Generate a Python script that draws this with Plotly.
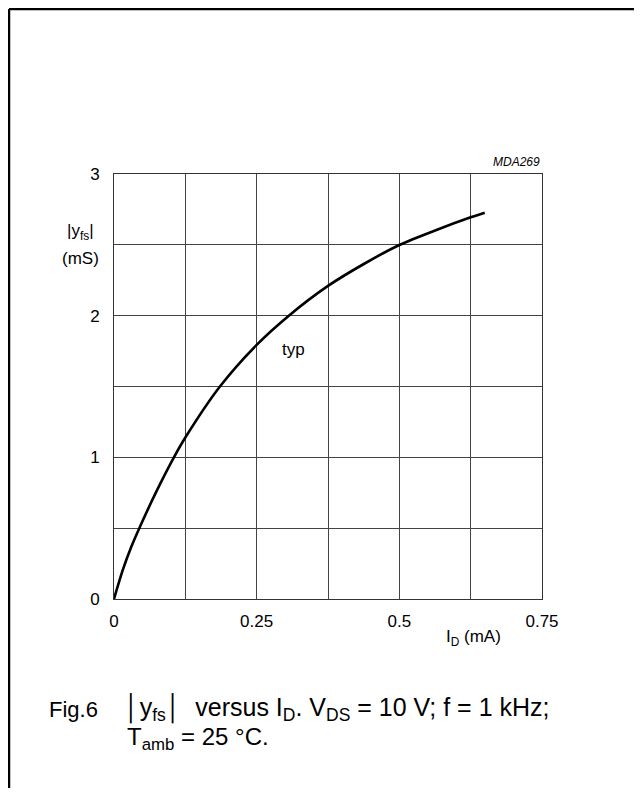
import plotly.graph_objects as go

# |yfs| (mS) versus ID (mA), typical curve
id_ma = [0.0, 0.015, 0.03, 0.0455, 0.075, 0.105, 0.125, 0.1856, 0.25, 0.3064, 0.375, 0.44, 0.5, 0.565, 0.625, 0.6496]
yfs_ms = [0.0, 0.2, 0.365, 0.51, 0.765, 1.0, 1.14, 1.5, 1.794, 2.0, 2.21, 2.37, 2.499, 2.605, 2.694, 2.727]

x_tickvals = [0, 0.125, 0.25, 0.375, 0.5, 0.625, 0.75]
x_ticktext = ["0", "", "0.25", "", "0.5", "", "0.75"]
y_tickvals = [0, 0.5, 1, 1.5, 2, 2.5, 3]
y_ticktext = ["0", "", "1", "", "2", "", "3"]

FONT = "Liberation Sans, Arial, sans-serif"
PAGE_OFFSET = 8  # default body margin of the html page
W, H = 642 - PAGE_OFFSET, 796 - 2 * PAGE_OFFSET
# plot area in page pixels, converted to figure pixels
L, R, T, B = 114 - PAGE_OFFSET, 542 - PAGE_OFFSET, 174 - PAGE_OFFSET, 599 - PAGE_OFFSET


def px(x):
    return (x - PAGE_OFFSET - L) / (R - L)


def py(y):
    return (B - (y - PAGE_OFFSET)) / (B - T)


fig = go.Figure()
fig.add_trace(
    go.Scatter(
        x=id_ma,
        y=yfs_ms,
        mode="lines",
        line=dict(color="black", width=2.6, shape="spline", smoothing=0.8),
        showlegend=False,
        hoverinfo="skip",
    )
)

fig.update_layout(
    width=W,
    height=H,
    margin=dict(l=L, r=W - R, t=T, b=H - B, autoexpand=False),
    paper_bgcolor="white",
    plot_bgcolor="white",
    font=dict(family=FONT, size=17, color="black"),
    showlegend=False,
)
axis_common = dict(
    showgrid=True,
    gridcolor="#444444",
    gridwidth=1,
    showline=True,
    linecolor="#333333",
    linewidth=1,
    mirror=True,
    zeroline=False,
    ticks="",
    tickfont=dict(family=FONT, size=17, color="black"),
    tickmode="array",
    fixedrange=True,
)
fig.update_xaxes(range=[0, 0.75], tickvals=x_tickvals, ticktext=x_ticktext,
                 ticklabelstandoff=7, **axis_common)
fig.update_yaxes(range=[0, 3], tickvals=y_tickvals, ticktext=y_ticktext,
                 ticklabelstandoff=10, **axis_common)

annotations = [
    dict(x=1, y=py(162), xref="paper", yref="paper", text="<i>MDA269</i>",
         xanchor="right", yanchor="middle", showarrow=False, font=dict(size=12)),
    dict(x=px(80), y=py(232), xref="paper", yref="paper", text="|y<sub>fs</sub>|",
         xanchor="center", yanchor="middle", showarrow=False, font=dict(size=17)),
    dict(x=px(80), y=py(258), xref="paper", yref="paper", text="(mS)",
         xanchor="center", yanchor="middle", showarrow=False, font=dict(size=17)),
    dict(x=px(473), y=py(638), xref="paper", yref="paper", text="I<sub>D</sub> (mA)",
         xanchor="center", yanchor="middle", showarrow=False, font=dict(size=17)),
    dict(x=0.3137, y=1.758, xref="x", yref="y", text="typ",
         xanchor="center", yanchor="middle", showarrow=False, font=dict(size=17)),
    dict(x=px(47), y=py(709), xref="paper", yref="paper", text="Fig.6",
         xanchor="left", yanchor="middle", showarrow=False, font=dict(size=22)),
    dict(x=px(122), y=py(709), xref="paper", yref="paper",
         text="\u2502y<sub>fs</sub>\u2502  versus I<sub>D</sub>. V<sub>DS</sub> = 10 V; f = 1 kHz;",
         xanchor="left", yanchor="middle", showarrow=False, font=dict(size=25)),
    dict(x=px(125), y=py(738), xref="paper", yref="paper",
         text="T<sub>amb</sub> = 25 \u00b0C.",
         xanchor="left", yanchor="middle", showarrow=False, font=dict(size=24)),
]
fig.update_layout(annotations=annotations)

# page frame: top and left border only
frame = dict(type="line", xref="paper", yref="paper", line=dict(color="black", width=2.5))
fig.add_shape(x0=px(9), x1=px(642), y0=py(9), y1=py(9), **frame)
fig.add_shape(x0=px(9), x1=px(9), y0=py(9), y1=py(796), **frame)

fig.write_html("out.html", config={"displayModeBar": False})
